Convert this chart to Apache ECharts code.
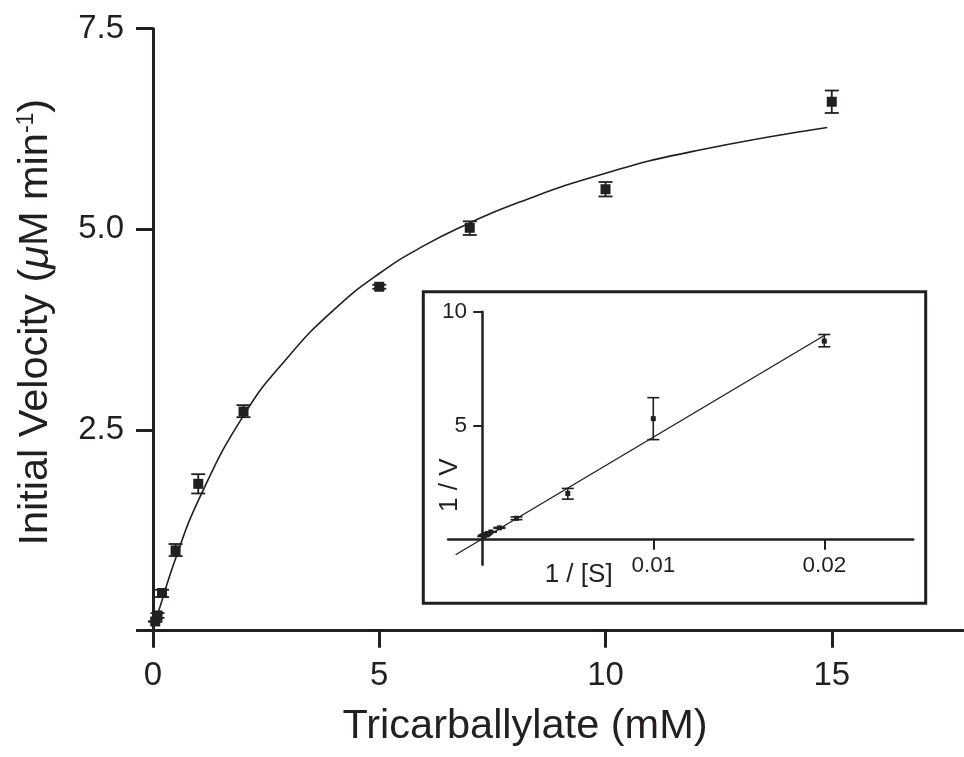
<!DOCTYPE html>
<html>
<head>
<meta charset="utf-8">
<script src="https://cdn.jsdelivr.net/npm/echarts@6/dist/echarts.min.js"></script>
<style>
html,body{margin:0;padding:0;background:#fff;}
#chart{width:964px;height:757px;}
</style>
</head>
<body>
<div id="chart"></div>
<script>
// ---- Main plot data (Tricarballylate mM vs initial velocity µM/min) ----
const substrate = [0.05, 0.1, 0.2, 0.5, 1, 2, 5, 7, 10, 15];
const velocity  = [0.115, 0.19, 0.47, 1.0, 1.83, 2.73, 4.285, 5.02, 5.5, 6.59];
const velLow    = [0.11, 0.16, 0.42, 0.93, 1.71, 2.66, 4.26, 4.93, 5.41, 6.45];
const velHigh   = [0.12, 0.22, 0.51, 1.08, 1.95, 2.81, 4.31, 5.10, 5.59, 6.73];
// fitted curve
const fitX = [0.05, 0.2, 0.5, 1, 2, 3, 4, 5, 6, 7, 8, 10, 12, 14.9];
const fitY = [0.1, 0.38, 0.9, 1.62, 2.68, 3.42, 4.0, 4.45, 4.8, 5.08, 5.32, 5.7, 5.98, 6.27];
const mainXTicks = [0, 5, 10, 15];
const mainYTicks = [0, 2.5, 5, 7.5];
const mainYLabels = [2.5, 5, 7.5];

// ---- Inset (Lineweaver-Burk) data ----
const invS    = [0.02, 0.01, 0.005, 0.002, 0.001, 0.0005, 0.0002, 0.000143, 0.0001, 0.0000667];
const invV    = [8.71, 5.31, 2.03, 0.94, 0.52, 0.34, 0.23, 0.2, 0.18, 0.15];
const invVLow = [8.46, 4.39, 1.78, 0.88, 0.5, 0.33, 0.22, 0.19, 0.17, 0.14];
const invVHigh= [9.0, 6.23, 2.25, 1.0, 0.54, 0.35, 0.24, 0.21, 0.19, 0.16];
const lineX = [-0.00156, 0.0201];
const lineY = [-0.66, 9.0];
const insetXTicks = [0.01, 0.02];
const insetYTicks = [5, 10];

const INK = '#231f20';
const FONT = "'Liberation Sans', Arial, Helvetica, sans-serif";

function pairs(xs, ys){ return xs.map((x,i)=>[x, ys[i]]); }
function errData(xs, lo, hi){ return xs.map((x,i)=>[x, lo[i], hi[i]]); }
function errRender(cap, lw){
  return function(params, api){
    const x = api.value(0);
    const a = api.coord([x, api.value(1)]);
    const b = api.coord([x, api.value(2)]);
    const st = {stroke: INK, lineWidth: lw};
    return {type:'group', children:[
      {type:'line', shape:{x1:a[0], y1:a[1], x2:b[0], y2:b[1]}, style:st},
      {type:'line', shape:{x1:a[0]-cap/2, y1:a[1], x2:a[0]+cap/2, y2:a[1]}, style:st},
      {type:'line', shape:{x1:b[0]-cap/2, y1:b[1], x2:b[0]+cap/2, y2:b[1]}, style:st}
    ]};
  };
}

const chart = echarts.init(document.getElementById('chart'), null, {renderer:'canvas'});
const option = {
  animation: false,
  backgroundColor: '#fff',
  textStyle: {fontFamily: FONT, color: INK},
  grid: [
    {left: 153, right: 1, top: 28.7, bottom: 126.3},
    {left: 448.1, right: 50.8, top: 311.7, bottom: 192.2}
  ],
  graphic: [{
    type: 'rect', z: 1,
    shape: {x: 423.3, y: 291.7, width: 502.4, height: 311.6},
    style: {fill: 'none', stroke: INK, lineWidth: 3}
  }],
  xAxis: [
    {
      type: 'value', gridIndex: 0, min: 0, max: 17.9,
      name: 'Tricarballylate (mM)', nameLocation: 'middle', nameGap: 75,
      nameTextStyle: {fontSize: 41.5, color: INK, fontFamily: FONT, padding: [0, 66, 0, 0]},
      axisLine: {onZero: true, lineStyle: {color: INK, width: 3}},
      axisTick: {length: 17, lineStyle: {color: INK, width: 3}, customValues: mainXTicks},
      axisLabel: {customValues: mainXTicks, fontSize: 33, color: INK, margin: 29, fontFamily: FONT},
      splitLine: {show: false}
    },
    {
      type: 'value', gridIndex: 1, min: -0.002, max: 0.0252,
      name: '1 / [S]', nameLocation: 'middle', nameGap: -3, nameMoveOverlap: false,
      nameTextStyle: {fontSize: 26, color: INK, fontFamily: FONT, padding: [0, 204, 0, 0]},
      axisLine: {onZero: true, lineStyle: {color: INK, width: 2.5}},
      axisTick: {length: 10, lineStyle: {color: INK, width: 2}, customValues: insetXTicks},
      axisLabel: {customValues: insetXTicks, fontSize: 22.5, color: INK, margin: -11, fontFamily: FONT},
      splitLine: {show: false}
    }
  ],
  yAxis: [
    {
      type: 'value', gridIndex: 0, min: 0, max: 7.5,
      name: '{a|Initial Velocity (}{i|\u03bc}{a|M min}{s|-1}{a|)}',
      nameLocation: 'middle', nameGap: 96, nameRotate: 90,
      nameTextStyle: {
        fontSize: 41.5, color: INK, fontFamily: FONT, padding: [0, 0, 0, 15],
        rich: {
          a: {fontSize: 41.5, color: INK, fontFamily: FONT},
          i: {fontSize: 41.5, color: INK, fontFamily: FONT, fontStyle: 'italic'},
          s: {fontSize: 23, color: INK, fontFamily: FONT, verticalAlign: 'top'}
        }
      },
      axisLine: {onZero: true, lineStyle: {color: INK, width: 3}},
      axisTick: {length: 17, lineStyle: {color: INK, width: 3}, customValues: mainYTicks},
      axisLabel: {customValues: mainYLabels, fontSize: 33, color: INK, margin: 29, fontFamily: FONT,
                  formatter: v => v.toFixed(1)},
      splitLine: {show: false}
    },
    {
      type: 'value', gridIndex: 1, min: -1.1, max: 10,
      name: '1 / V', nameLocation: 'middle', nameGap: -15, nameRotate: 90, nameMoveOverlap: false,
      nameTextStyle: {fontSize: 26, color: INK, fontFamily: FONT, padding: [0, 94, 0, 0]},
      axisLine: {onZero: true, lineStyle: {color: INK, width: 2.5}},
      axisTick: {length: 9, lineStyle: {color: INK, width: 2}, customValues: insetYTicks},
      axisLabel: {customValues: insetYTicks, fontSize: 22.5, color: INK, margin: -19, fontFamily: FONT},
      splitLine: {show: false}
    }
  ],
  series: [
    {
      type: 'line', xAxisIndex: 0, yAxisIndex: 0, data: pairs(fitX, fitY),
      smooth: true, showSymbol: false, lineStyle: {color: INK, width: 1.6}, z: 2
    },
    {
      type: 'custom', xAxisIndex: 0, yAxisIndex: 0, data: errData(substrate, velLow, velHigh),
      renderItem: errRender(14, 1.8), z: 3
    },
    {
      type: 'scatter', xAxisIndex: 0, yAxisIndex: 0, data: pairs(substrate, velocity),
      symbol: 'rect', symbolSize: 10, itemStyle: {color: INK, opacity: 1}, z: 4
    },
    {
      type: 'line', xAxisIndex: 1, yAxisIndex: 1, data: pairs(lineX, lineY),
      showSymbol: false, lineStyle: {color: INK, width: 1.4}, z: 2
    },
    {
      type: 'custom', xAxisIndex: 1, yAxisIndex: 1, data: errData(invS, invVLow, invVHigh),
      renderItem: errRender(12, 1.6), z: 3
    },
    {
      type: 'scatter', xAxisIndex: 1, yAxisIndex: 1, data: pairs(invS, invV),
      symbol: 'rect', symbolSize: 5, itemStyle: {color: INK, opacity: 1}, z: 4
    }
  ]
};
chart.setOption(option);
</script>
</body>
</html>
